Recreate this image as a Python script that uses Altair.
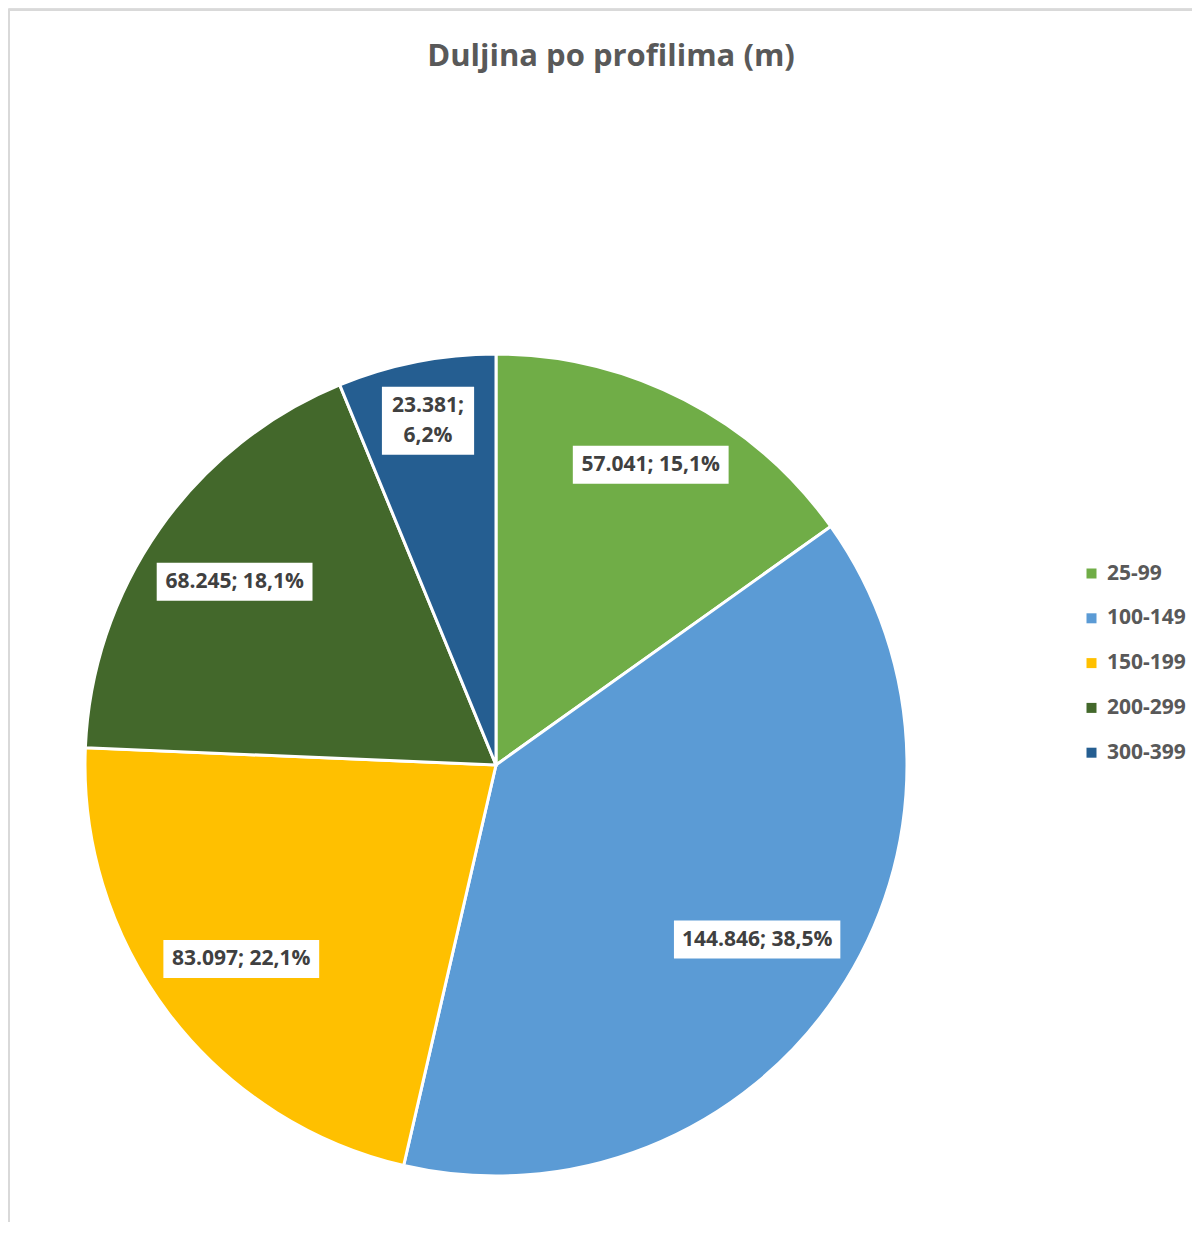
import altair as alt
import pandas as pd

# ---- data ----
categories = ["25-99", "100-149", "150-199", "200-299", "300-399"]
lengths = [57041, 144846, 83097, 68245, 23381]
colors = ["#70AD47", "#5B9BD5", "#FFC000", "#43682B", "#255E91"]
title_text = "Duljina po profilima (m)"

total = sum(lengths)


def fmt_num(v):
    return f"{v:,}".replace(",", ".")


def fmt_pct(v):
    return f"{v / total * 100:.1f}".replace(".", ",") + "%"


labels = []
for v in lengths:
    sep = "\n" if v / total < 0.1 else " "
    labels.append(f"{fmt_num(v)};{sep}{fmt_pct(v)}")

df = pd.DataFrame({
    "kategorija": categories,
    "duljina": lengths,
    "redoslijed": list(range(len(categories))),
    "oznaka": labels,
    "nchar": [max(len(s) for s in l.split("\n")) for l in labels],
    "nlines": [len(l.split("\n")) for l in labels],
})

# ---- layout constants (pixels inside the canvas) ----
W, H = 1184, 1214
CX, CY, R = 488, 757, 411
D = 395          # label boxes sit inside the slice end, far corner at this radius
LH = 30          # label line height
FONT = "Open Sans"

arcs = alt.Chart(df).mark_arc(radius=R, stroke="white", strokeWidth=3).encode(
    theta=alt.Theta("duljina:Q", stack=True),
    order=alt.Order("redoslijed:Q"),
    color=alt.Color(
        "kategorija:N",
        scale=alt.Scale(domain=categories, range=colors),
        legend=alt.Legend(
            title=None, orient="none", legendX=1073, legendY=555,
            symbolType="square", symbolSize=100, symbolStrokeWidth=0,
            labelFont=FONT, labelFontSize=21, labelFontWeight="bold",
            labelColor="#595959", labelOffset=5, rowPadding=22.8,
        ),
    ),
    x=alt.value(CX),
    y=alt.value(CY),
)

lab_base = (
    alt.Chart(df)
    .transform_window(cum="sum(duljina)", sort=[alt.SortField("redoslijed")], frame=[None, 0])
    .transform_joinaggregate(total="sum(duljina)")
    .transform_calculate(
        mid="(datum.cum - datum.duljina / 2) / datum.total * 2 * PI",
        bw="datum.nchar * 10.6 + 18",
        bh=f"datum.nlines * {LH} + 8",
    )
    .transform_calculate(
        s="sin(datum.mid)",
        c="-cos(datum.mid)",
        hw="datum.bw / 2",
        hh="datum.bh / 2",
    )
    .transform_calculate(
        qb="2 * (abs(datum.s) * datum.hw + abs(datum.c) * datum.hh)",
        qc=f"datum.hw * datum.hw + datum.hh * datum.hh - {D * D}",
    )
    .transform_calculate(
        t="(-datum.qb + sqrt(datum.qb * datum.qb - 4 * datum.qc)) / 2",
    )
    .transform_calculate(
        lx=f"{CX} + datum.t * datum.s",
        ly=f"{CY} + datum.t * datum.c",
    )
    .transform_calculate(
        bx1="datum.lx - datum.hw",
        bx2="datum.lx + datum.hw",
        by1="datum.ly - datum.hh",
        by2="datum.ly + datum.hh",
        ty=f"datum.ly - (datum.nlines - 1) * {LH} / 2",
    )
)

boxes = lab_base.mark_rect(color="white").encode(
    x=alt.X("bx1:Q", scale=None, axis=None),
    x2="bx2:Q",
    y=alt.Y("by1:Q", scale=None, axis=None),
    y2="by2:Q",
)

texts = lab_base.mark_text(
    font=FONT, fontSize=21, fontWeight="bold", color="#404040",
    lineBreak="\n", lineHeight=LH, align="center", baseline="middle",
).encode(
    x=alt.X("lx:Q", scale=None, axis=None),
    y=alt.Y("ty:Q", scale=None, axis=None),
    text="oznaka:N",
)

single = alt.Data(values=[{"naslov": title_text}])
title_mark = alt.Chart(single).mark_text(
    font=FONT, fontSize=31, fontWeight="bold", color="#595959",
    align="center", baseline="alphabetic",
).encode(x=alt.value(603), y=alt.value(58), text="naslov:N")

left_border = alt.Chart(single).mark_rule(color="#d9d9d9", strokeWidth=2).encode(
    x=alt.value(1), y=alt.value(2), y2=alt.value(H)
)
top_border = alt.Chart(single).mark_rule(color="#d9d9d9", strokeWidth=2).encode(
    x=alt.value(0), x2=alt.value(W), y=alt.value(2)
)

chart = (
    alt.layer(left_border, top_border, arcs, boxes, texts, title_mark)
    .properties(
        width=W,
        height=H,
        padding=0,
        autosize=alt.AutoSizeParams(type="none"),
    )
    .configure_view(stroke=None)
    .configure(background="white")
)

chart.save("out.html", embed_options={"renderer": "svg", "actions": False})
